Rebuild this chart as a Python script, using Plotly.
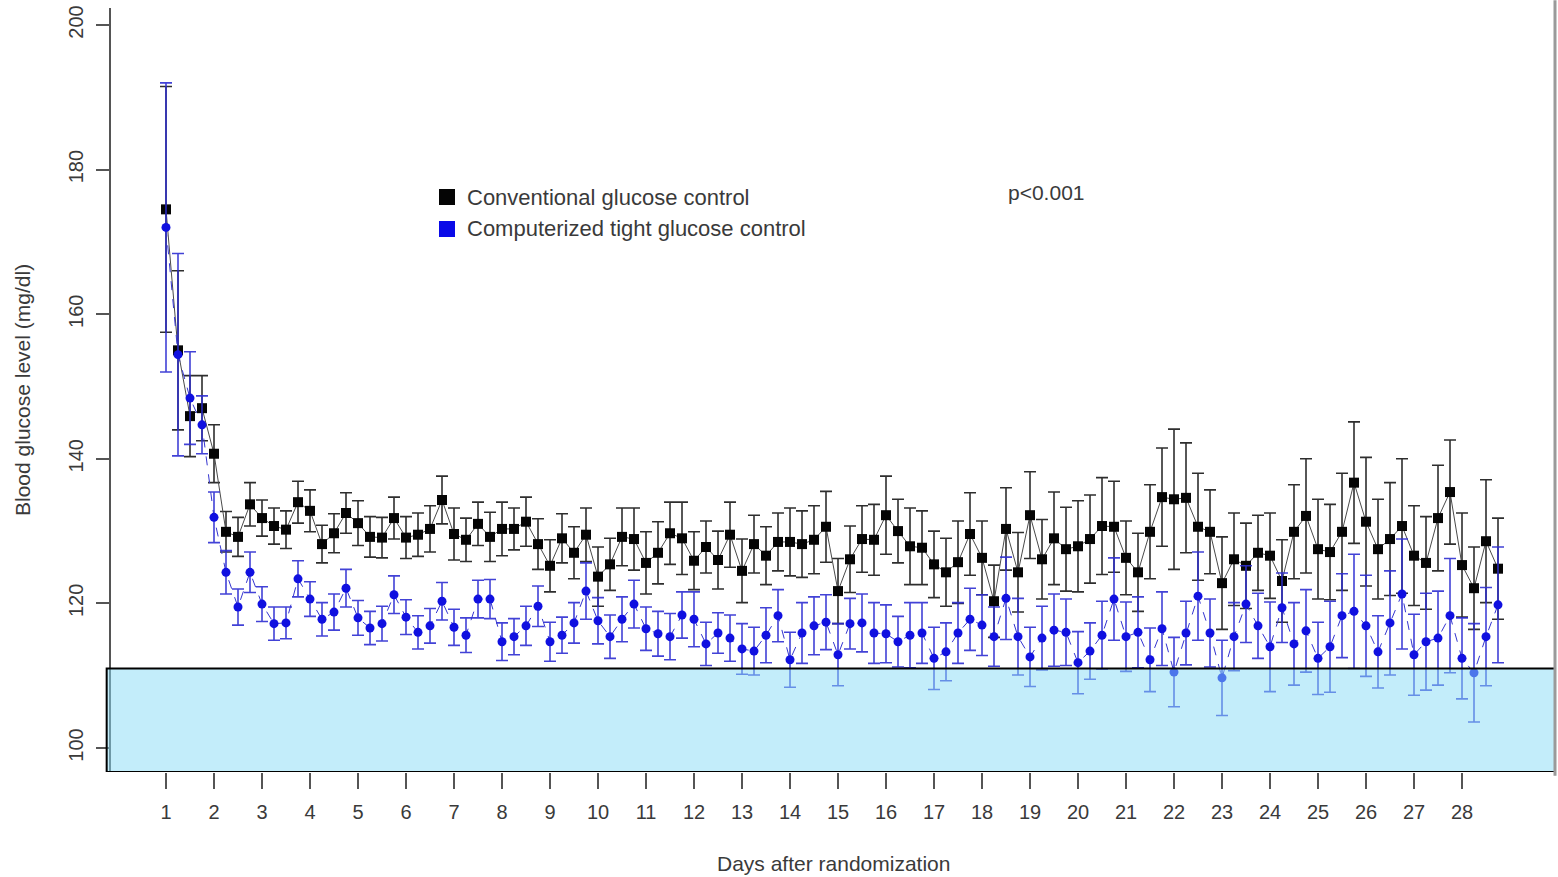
import plotly.graph_objects as go

# Sampling grid: every 6 hours from day 1 through day 28.75
hours_after_start = list(range(0, 672, 6))
days = [1 + h / 24 for h in hours_after_start]

conventional_mean = [
    174.5, 155.0, 145.9, 147.0, 140.7, 129.9, 129.2, 133.7,
    131.8, 130.7, 130.2, 134.0, 132.8, 128.2, 129.7, 132.5,
    131.1, 129.2, 129.1, 131.8, 129.1, 129.5, 130.3, 134.3,
    129.6, 128.8, 131.0, 129.2, 130.3, 130.3, 131.3, 128.2,
    125.2, 129.0, 127.0, 129.5, 123.7, 125.4, 129.2, 128.9,
    125.6, 127.0, 129.7, 129.0, 125.9, 127.8, 126.0, 129.5,
    124.5, 128.2, 126.6, 128.5, 128.5, 128.2, 128.8, 130.6,
    121.7, 126.1, 128.9, 128.8, 132.2, 130.0, 127.9, 127.7,
    125.4, 124.3, 125.7, 129.6, 126.3, 120.3, 130.3, 124.3,
    132.2, 126.1, 129.0, 127.5, 127.9, 128.9, 130.7, 130.6,
    126.3, 124.3, 129.9, 134.7, 134.4, 134.6, 130.6, 129.9,
    122.8, 126.1, 125.2, 127.0, 126.6, 123.1, 129.9, 132.1,
    127.5, 127.1, 129.9, 136.7, 131.3, 127.5, 128.9, 130.7,
    126.6, 125.6, 131.8, 135.4, 125.3, 122.1, 128.6, 124.8,
]
conventional_se = [
    17.0, 11.0, 5.6, 4.5, 4.0, 2.8, 2.7, 3.0,
    2.5, 2.5, 2.6, 2.9, 2.9, 2.6, 2.7, 2.8,
    3.1, 2.8, 2.8, 2.9, 2.9, 3.0, 3.2, 3.3,
    3.6, 3.0, 3.0, 3.4, 3.7, 2.9, 3.4, 3.5,
    3.6, 3.4, 3.6, 3.7, 4.1, 3.6, 4.0, 4.3,
    4.3, 4.3, 4.3, 5.0, 4.0, 3.6, 4.0, 4.5,
    4.4, 4.0, 4.0, 4.0, 4.7, 4.6, 4.7, 4.9,
    4.5, 4.6, 4.6, 4.9, 5.4, 4.4, 5.3, 5.1,
    4.6, 4.7, 5.7, 5.7, 5.1, 5.0, 5.7, 5.5,
    6.0, 5.5, 6.4, 5.8, 6.3, 6.1, 6.7, 6.3,
    5.1, 5.4, 6.5, 6.8, 9.7, 7.6, 7.4, 5.8,
    6.4, 6.4, 5.9, 5.2, 5.9, 5.7, 6.5, 7.9,
    6.9, 6.6, 8.1, 8.4, 8.9, 6.9, 7.8, 9.3,
    6.9, 6.4, 7.3, 7.2, 7.2, 5.7, 8.5, 7.0,
]

tight_mean = [
    172.0, 154.4, 148.4, 144.7, 131.9, 124.3, 119.5, 124.3,
    119.9, 117.2, 117.3, 123.4, 120.6, 117.8, 118.8, 122.1,
    118.0, 116.6, 117.2, 121.2, 118.1, 116.0, 116.9, 120.3,
    116.7, 115.6, 120.6, 120.6, 114.7, 115.4, 116.9, 119.6,
    114.7, 115.6, 117.3, 121.7, 117.6, 115.4, 117.8, 119.9,
    116.5, 115.8, 115.4, 118.4, 117.8, 114.4, 115.9, 115.2,
    113.7, 113.4, 115.6, 118.3, 112.2, 115.9, 116.9, 117.4,
    112.9, 117.2, 117.3, 115.9, 115.8, 114.7, 115.6, 115.9,
    112.4, 113.3, 115.9, 117.8, 117.0, 115.4, 120.7, 115.4,
    112.6, 115.2, 116.3, 116.0, 111.8, 113.4, 115.6, 120.6,
    115.4, 116.0, 112.2, 116.5, 110.5, 115.9, 121.0, 115.9,
    109.7, 115.4, 119.9, 116.9, 114.0, 119.4, 114.4, 116.2,
    112.4, 114.0, 118.3, 118.9, 116.9, 113.3, 117.3, 121.3,
    112.9, 114.7, 115.2, 118.3, 112.4, 110.4, 115.4, 119.8,
]
tight_se = [
    20.0, 14.0, 6.4, 4.0, 3.5, 3.0, 2.5, 2.8,
    2.4, 2.3, 2.2, 2.5, 2.4, 2.3, 2.5, 2.6,
    2.4, 2.3, 2.4, 2.6, 2.4, 2.3, 2.4, 2.6,
    2.5, 2.4, 2.6, 2.7, 2.6, 2.5, 2.7, 2.8,
    2.7, 2.5, 2.8, 3.9, 3.2, 3.0, 3.1, 3.3,
    3.0, 3.1, 3.2, 3.2, 3.8, 3.0, 2.8, 3.2,
    3.5, 3.3, 3.8, 3.6, 3.8, 4.2, 4.0, 3.8,
    4.3, 3.5, 4.0, 4.2, 4.0, 3.5, 4.5, 4.2,
    4.3, 4.0, 4.2, 4.3, 4.2, 4.1, 5.7, 5.3,
    4.1, 4.4, 5.0, 4.6, 4.3, 3.9, 4.7, 5.7,
    4.8, 4.9, 4.4, 5.1, 4.8, 4.4, 6.1, 4.7,
    5.2, 4.7, 5.3, 4.5, 6.2, 4.8, 5.7, 5.7,
    5.0, 6.3, 5.8, 7.9, 7.0, 5.0, 7.2, 7.6,
    5.6, 6.7, 6.5, 7.9, 5.6, 6.8, 6.8, 8.0,
]

day_ticks = list(range(1, 29))
y_ticks = [100, 120, 140, 160, 180, 200]
target_low, target_high = 96.68, 111.0

series_names = ["Conventional glucose control", "Computerized tight glucose control"]
text_color = "#3a3a3a"
font_family = "Liberation Sans, Arial, sans-serif"

fig = go.Figure()

fig.add_trace(go.Scatter(
    x=days, y=conventional_mean, mode="lines+markers", name=series_names[0],
    line=dict(color="#4a4a4a", width=1),
    marker=dict(symbol="square", size=10, color="#050505"),
    error_y=dict(type="data", array=conventional_se, visible=True,
                 color="#2e2e2e", thickness=1.6, width=6),
    showlegend=False,
))
fig.add_trace(go.Scatter(
    x=days, y=tight_mean, mode="lines+markers", name=series_names[1],
    line=dict(color="#3535d0", width=1, dash="dash"),
    marker=dict(symbol="circle", size=9, color="#1010e0"),
    error_y=dict(type="data", array=tight_se, visible=True,
                 color="rgba(45,45,210,0.9)", thickness=1.6, width=6),
    showlegend=False,
))

shapes = [
    # target glucose band
    dict(type="rect", xref="paper", yref="y", x0=-0.003, x1=1.0,
         y0=target_low, y1=target_high, layer="above",
         fillcolor="rgba(135,220,245,0.5)", line=dict(color="black", width=2)),
    # right frame edge
    dict(type="line", xref="paper", yref="paper", x0=1.0, x1=1.0, y0=-0.005, y1=1.01,
         line=dict(color="#9a9a9a", width=3)),
]

# legend keys
legend_colors = ["#050505", "#0a0ae8"]
legend_rows_y = [197, 229]
annotations = []
for name, color, py in zip(series_names, legend_colors, legend_rows_y):
    yp = 1 - (py - 8) / 764
    shapes.append(dict(type="rect", xref="paper", yref="paper",
                       xsizemode="pixel", ysizemode="pixel",
                       xanchor=(447 - 111) / 1444, yanchor=yp,
                       x0=-8, x1=8, y0=-8, y1=8,
                       fillcolor=color, line=dict(width=0)))
    annotations.append(dict(xref="paper", yref="paper",
                            x=(465 - 111) / 1444, y=yp, xanchor="left", yanchor="middle",
                            text=name, showarrow=False,
                            font=dict(size=22, color=text_color, family=font_family)))

annotations.append(dict(xref="paper", yref="paper", x=(1046 - 111) / 1444,
                        y=1 - (192 - 8) / 764, xanchor="center", yanchor="middle",
                        text="p<0.001", showarrow=False,
                        font=dict(size=21, color=text_color, family=font_family)))
annotations.append(dict(xref="paper", yref="paper", x=0.5, y=0, yshift=-91,
                        xanchor="center", yanchor="middle",
                        text="Days after randomization", showarrow=False,
                        font=dict(size=21, color=text_color, family=font_family)))
annotations.append(dict(xref="paper", yref="paper", x=0, xshift=-89, y=0.5,
                        xanchor="center", yanchor="middle", textangle=-90,
                        text="Blood glucose level (mg/dl)", showarrow=False,
                        font=dict(size=21, color=text_color, family=font_family)))

fig.update_layout(
    width=1558, height=877,
    margin=dict(l=111, r=3, t=8, b=105),
    paper_bgcolor="white", plot_bgcolor="white",
    font=dict(family=font_family, color=text_color),
    shapes=shapes, annotations=annotations,
)
fig.update_xaxes(
    range=[1 - 55 / 48, 1 + (1555 - 166) / 48],
    tickvals=day_ticks, ticktext=[str(d) for d in day_ticks],
    ticks="outside", ticklen=16, tickwidth=2, tickcolor="#555555",
    ticklabelstandoff=6,
    tickfont=dict(size=20, color=text_color),
    showline=False, showgrid=False, zeroline=False,
)
fig.update_yaxes(
    range=[target_low, 202.35],
    tickvals=y_ticks, ticks="outside", ticklen=13, tickwidth=2, tickcolor="#555555",
    ticklabelstandoff=5,
    tickangle=-90, tickfont=dict(size=20, color=text_color),
    showline=True, linecolor="#555555", linewidth=2,
    showgrid=False, zeroline=False,
)

fig.write_html("out.html")
